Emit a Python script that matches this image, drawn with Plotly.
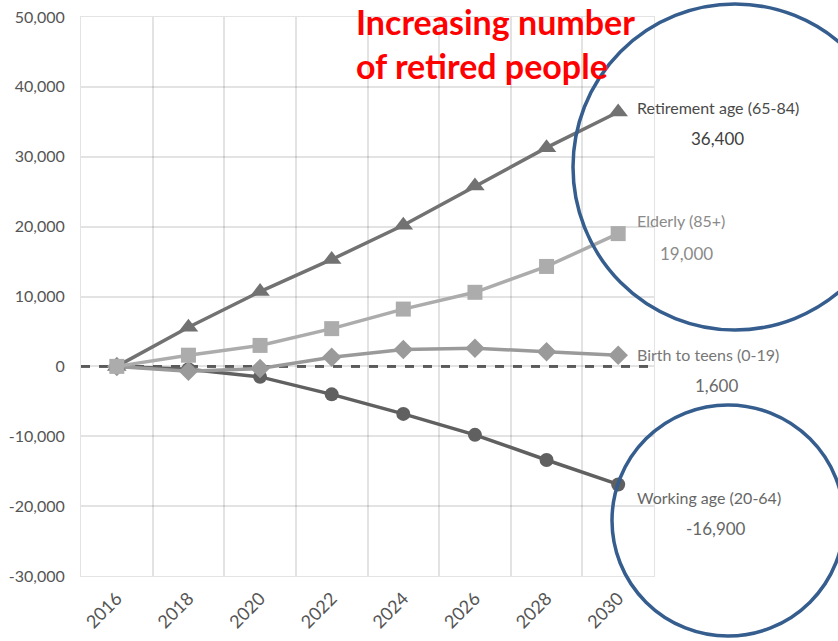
import plotly.graph_objects as go

years = ["2016", "2018", "2020", "2022", "2024", "2026", "2028", "2030"]
retirement = [0, 5600, 10700, 15300, 20200, 25800, 31300, 36400]
elderly = [0, 1600, 3000, 5400, 8200, 10600, 14300, 19000]
birth_teens = [0, -700, -300, 1300, 2400, 2600, 2100, 1600]
working = [0, -400, -1500, -4000, -6800, -9800, -13400, -16900]

y_tickvals = [50000, 40000, 30000, 20000, 10000, 0, -10000, -20000, -30000]
y_ticktext = ["50,000", "40,000", "30,000", "20,000", "10,000", "0", "-10,000", "-20,000", "-30,000"]

series_names = ["Working age (20-64)", "Birth to teens (0-19)", "Retirement age (65-84)", "Elderly (85+)"]
series_vals = [working, birth_teens, retirement, elderly]
value_labels = ["-16,900", "1,600", "36,400", "19,000"]
colors = ["#606060", "#9a9a9a", "#727272", "#acacac"]
symbols = ["circle", "diamond", "triangle-up", "square"]
msizes = [14, 15, 17, 15]
label_colors = ["#666666", "#777777", "#4a4a4a", "#8a8a8a"]
value_colors = ["#666666", "#6a6a6a", "#3e3e3e", "#8a8a8a"]
# pixel positions of label blocks (name left x, name y, value centre x, value y)
label_pos = [(635, 497, 716, 528), (635, 354, 716, 385), (635, 107, 717, 138), (635, 221, 687, 253)]

W, H = 838, 641
L, R, T, B = 81, 184, 17, 65
PW, PH = W - L - R, H - T - B

def px(x):
    return (x - L) / PW

def py(y):
    return (H - B - y) / PH

fig = go.Figure()
for name, vals, c, s, ms in zip(series_names, series_vals, colors, symbols, msizes):
    fig.add_trace(go.Scatter(
        x=years, y=vals, mode="lines+markers", name=name,
        line=dict(color=c, width=3.5),
        marker=dict(symbol=s, size=ms, color=c),
        cliponaxis=False,
    ))

fig.add_shape(type="line", xref="paper", yref="y", x0=0, x1=1, y0=0, y1=0,
              line=dict(color="#666666", width=3, dash="dash"), layer="below")

for name, vl, lc, vc, (nx, ny, vx, vy) in zip(series_names, value_labels, label_colors, value_colors, label_pos):
    fig.add_annotation(x=px(nx), y=py(ny), xref="paper", yref="paper", text=name,
                       showarrow=False, xanchor="left", yanchor="middle",
                       font=dict(family="Lato", size=16, color=lc))
    fig.add_annotation(x=px(vx), y=py(vy), xref="paper", yref="paper", text=vl,
                       showarrow=False, xanchor="center", yanchor="middle",
                       font=dict(family="Lato", size=17, color=vc))

fig.add_annotation(x=px(354), y=py(22), xref="paper", yref="paper",
                   text="<b>Increasing number</b>", showarrow=False,
                   xanchor="left", yanchor="middle",
                   font=dict(family="Lato", size=34, color="#ff0000"))
fig.add_annotation(x=px(354), y=py(65), xref="paper", yref="paper",
                   text="<b>of retired people</b>", showarrow=False,
                   xanchor="left", yanchor="middle",
                   font=dict(family="Lato", size=34, color="#ff0000"))

circ = dict(color="#355d8e", width=3.5)
fig.add_shape(type="circle", xref="paper", yref="paper",
              x0=px(573), x1=px(897), y0=py(330), y1=py(4), line=circ)
fig.add_shape(type="circle", xref="paper", yref="paper",
              x0=px(612), x1=px(844), y0=py(636), y1=py(405), line=circ)

grid = "rgba(0,0,0,0.11)"
fig.update_layout(
    width=W, height=H,
    margin=dict(l=L, r=R, t=T, b=B, autoexpand=False),
    paper_bgcolor="white", plot_bgcolor="white",
    showlegend=False,
    font=dict(family="Lato", color="#555555"),
)
fig.update_xaxes(type="category", categoryorder="array", categoryarray=years,
                 tickson="boundaries", showgrid=True, gridcolor=grid, gridwidth=1.5,
                 tickangle=-45, tickfont=dict(size=18, color="#555555"),
                 showline=True, linecolor=grid, mirror=True, ticks="",
                 range=[-0.5, 7.5], zeroline=False, automargin=False,
                 ticklabelstandoff=4)
fig.update_yaxes(range=[-30000, 50000], tickmode="array", tickvals=y_tickvals, ticktext=y_ticktext,
                 showgrid=True, gridcolor=grid, gridwidth=1.5,
                 tickfont=dict(size=16, color="#555555"),
                 showline=True, linecolor=grid, mirror=True,
                 zeroline=False, ticks="", ticklabelstandoff=12, automargin=False)

fig.write_html("out.html")
